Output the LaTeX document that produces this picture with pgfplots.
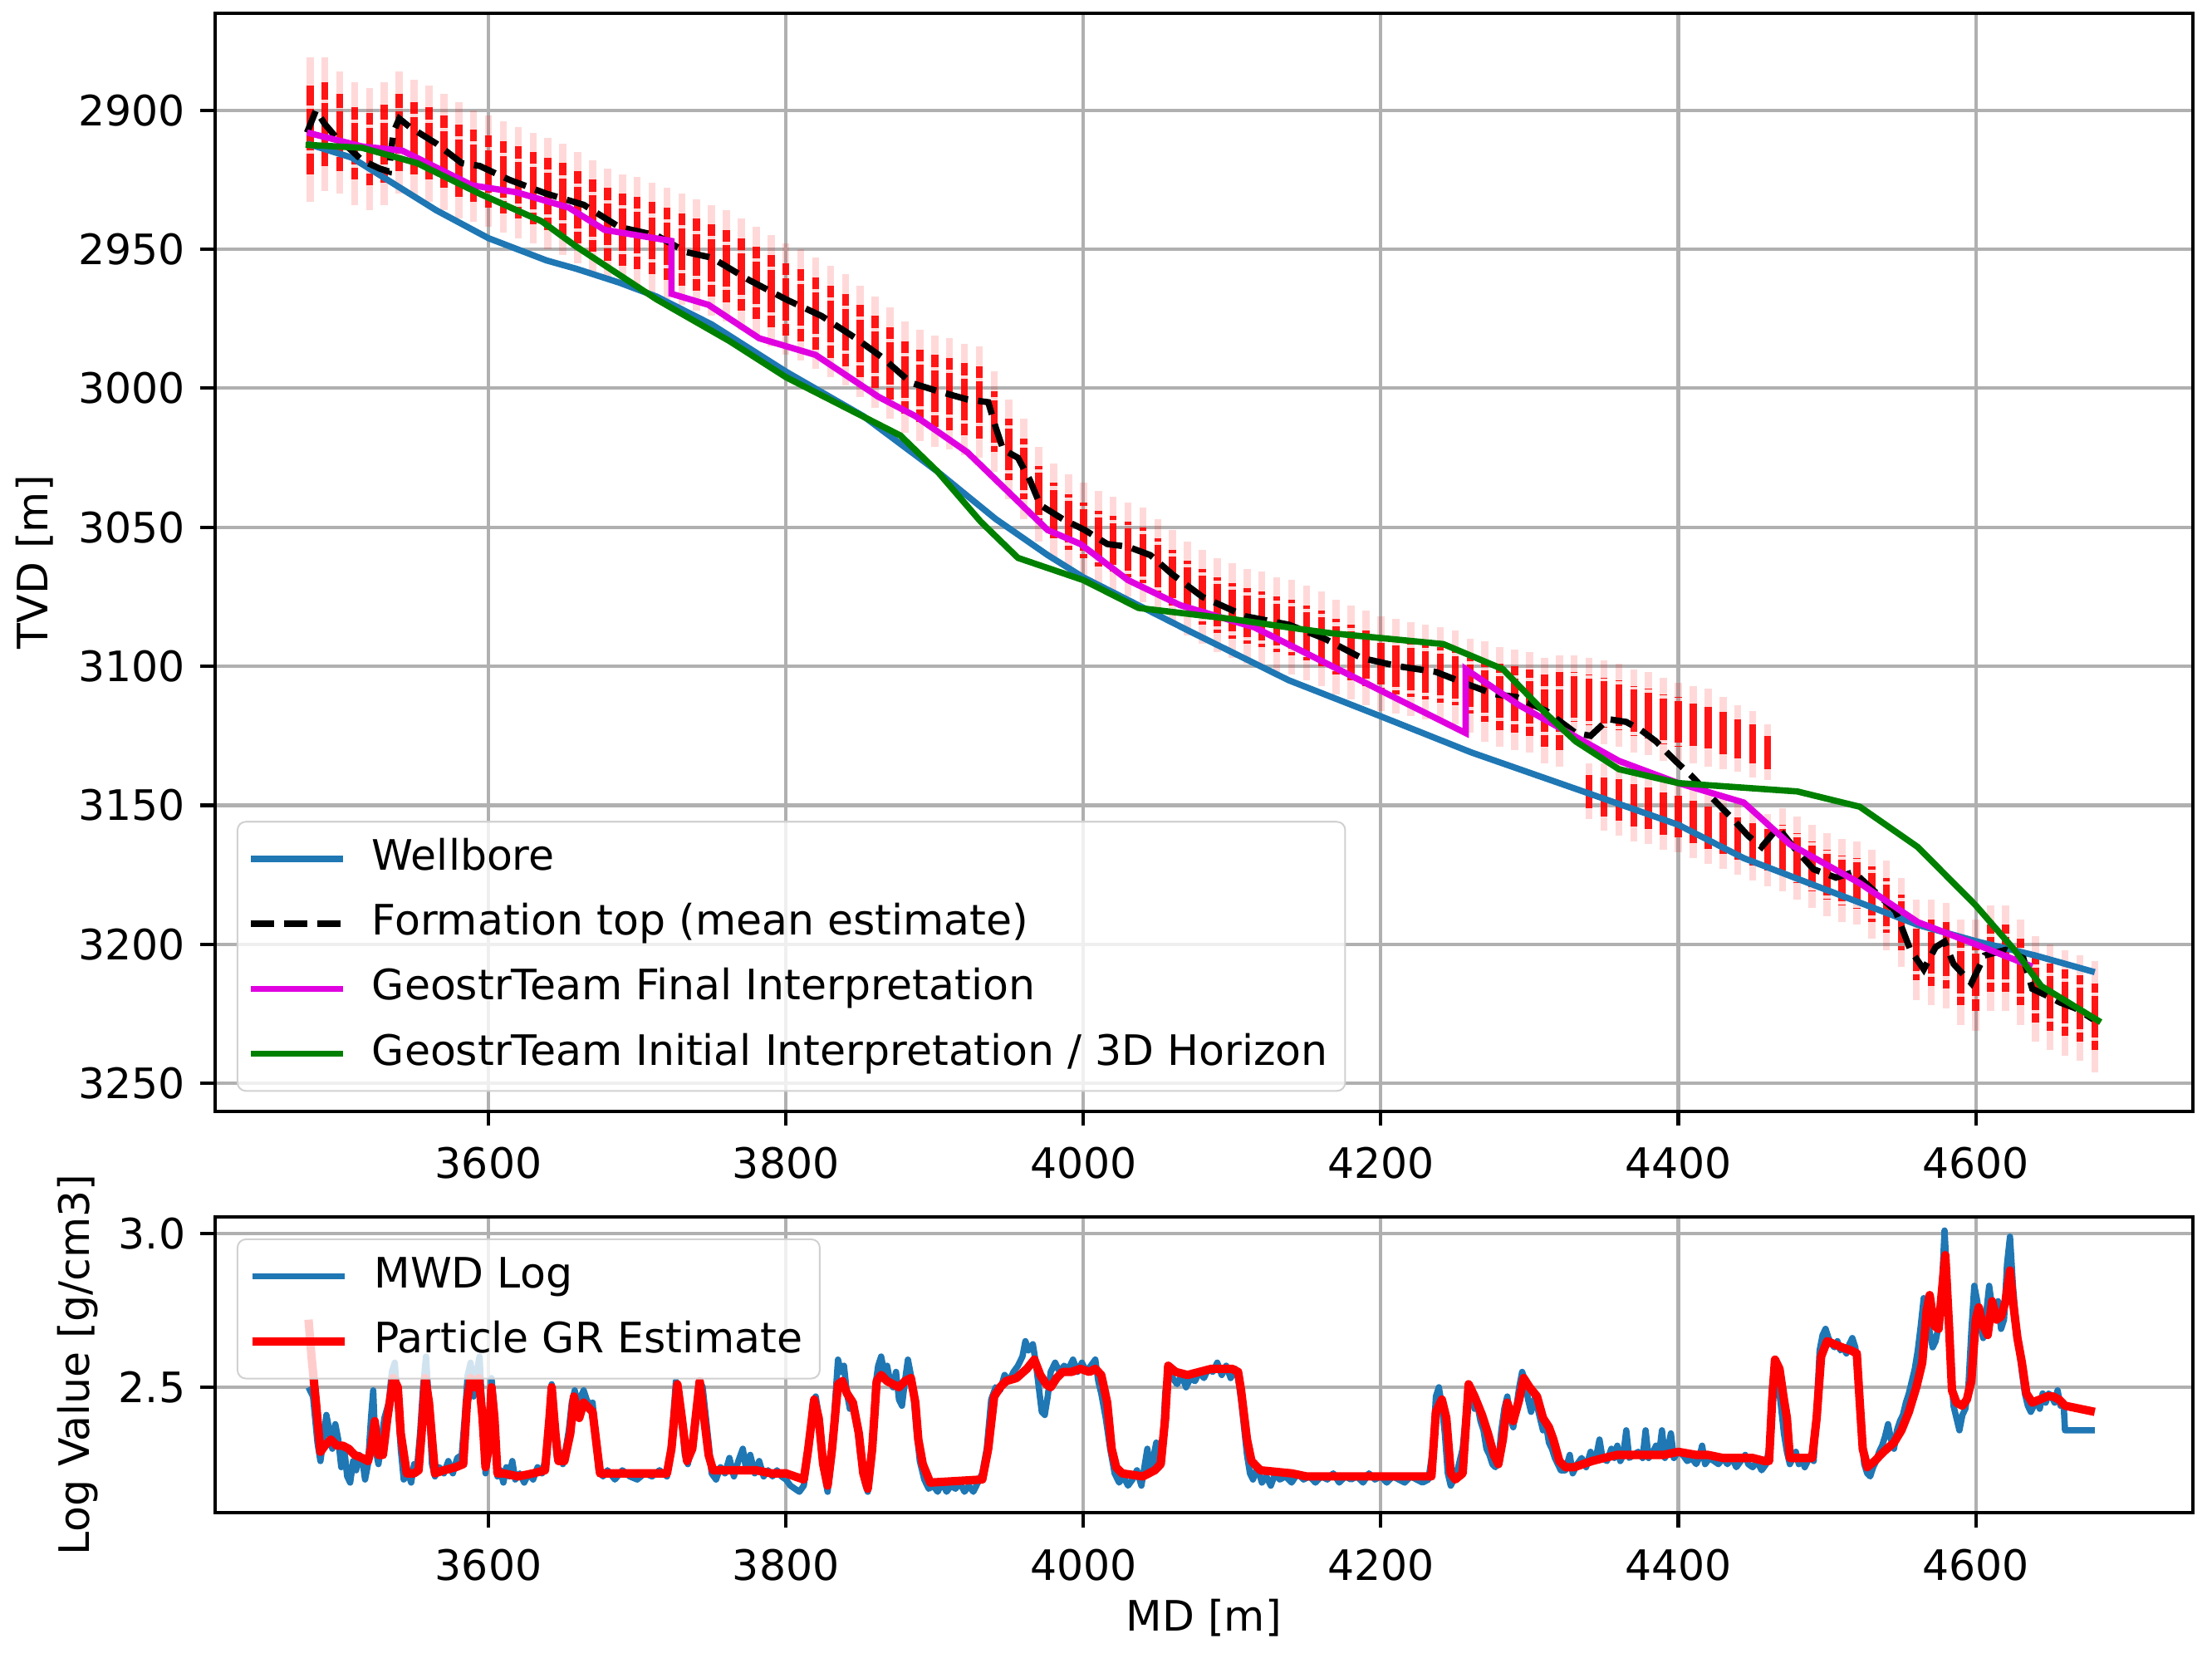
\documentclass[border=0pt]{standalone}
\usepackage{fontspec}
\setmainfont{DejaVu Sans}
\usepackage{pgfplots}
\pgfplotsset{compat=1.18}
\usepackage{pgfplotstable}

\definecolor{wblue}{HTML}{1F77B4}
\definecolor{fmag}{HTML}{E000E0}
\definecolor{igreen}{HTML}{008000}
\definecolor{gridc}{HTML}{B0B0B0}

% particle cloud: centre c, core half-width e, faint half-width f
\pgfplotstableread{
md c e f
3480 2907 16 26
3490 2905 15 24
3500 2908 14 22
3510 2912 13 22
3520 2914 13 22
3530 2912 14 22
3540 2908 14 22
3550 2910 13 21
3560 2912 13 21
3570 2915 13 21
3580 2918 13 21
3590 2920 13 20
3600 2922 13 20
3610 2924 13 20
3620 2926 13 20
3630 2928 13 20
3640 2930 13 20
3650 2932 13 20
3660 2935 13 20
3670 2938 13 20
3680 2941 13 20
3690 2943 13 20
3700 2944 13 20
3710 2946 13 20
3720 2948 13 20
3730 2950 13 20
3740 2952 13 20
3750 2954 13 20
3760 2956 13 20
3770 2959 13 20
3780 2962 13 20
3790 2965 13 20
3800 2968 13 20
3810 2970 13 20
3820 2973 13 20
3830 2976 13 20
3840 2979 13 20
3850 2983 13 20
3860 2987 13 20
3870 2991 13 20
3880 2996 13 20
3890 2999 13 20
3900 3001 13 20
3910 3002 13 20
3920 3004 13 20
3930 3005 13 20
3940 3012 11 18
3950 3022 11 18
3960 3029 11 18
3970 3038 10 17
3980 3044 10 17
3990 3048 10 17
4000 3051 10 17
4010 3054 10 17
4020 3056 10 17
4030 3058 10 17
4040 3060 10 17
4050 3064 10 17
4060 3068 10 17
4070 3072 10 17
4080 3075 10 17
4090 3078 10 17
4100 3080 10 17
4110 3082 10 17
4120 3083 10 17
4130 3085 10 17
4140 3086 10 17
4150 3088 10 17
4160 3090 10 17
4170 3093 10 17
4180 3095 10 17
4190 3097 10 17
4200 3099 10 17
4210 3100 10 17
4220 3101 10 17
4230 3102 10 17
4240 3103 10 17
4250 3104 10 17
4260 3107 10 17
4270 3109 11 18
4280 3111 12 18
4290 3112 12 18
4300 3113 12 18
4310 3116 13 19
4320 3116 14 20
4330 3111 9 15
4340 3112 9 15
4350 3113 9 15
4360 3114 9 15
4370 3116 9 15
4380 3117 9 15
4390 3119 9 15
4400 3120 9 14
4410 3121 8 14
4420 3122 8 14
4430 3124 8 13
4440 3126 7 12
4450 3128 7 12
4460 3131 6 10
4340 3145 6 10
4350 3147 7 12
4360 3148 8 13
4370 3150 8 13
4380 3151 8 13
4390 3153 8 13
4400 3154 8 13
4410 3156 8 13
4420 3158 8 13
4430 3160 8 13
4440 3162 8 13
4450 3164 8 13
4460 3166 8 13
4470 3166 9 15
4480 3169 9 15
4490 3172 9 15
4500 3175 9 15
4510 3177 9 15
4520 3178 9 15
4530 3182 10 16
4540 3186 10 16
4550 3192 10 16
4560 3202 11 18
4570 3203 12 19
4580 3204 12 19
4590 3210 12 19
4600 3211 13 20
4610 3205 12 19
4620 3205 12 19
4630 3210 12 19
4640 3216 12 19
4650 3219 12 19
4660 3221 12 19
4670 3223 12 19
4680 3226 12 20
}\cloud

\pgfplotstableread{
md tvd
3478 2912
3508 2917
3535 2926
3565 2936
3600 2946
3639 2954
3659 2957
3688 2962
3713 2967
3750 2977
3800 2994
3852 3010
3902 3030
3941 3047
3976 3060
4000 3068
4070 3087
4138 3105
4200 3118
4261 3131
4336 3145
4400 3157
4444 3169
4483 3177
4522 3185
4561 3193
4601 3199
4640 3204
4680 3210
}\wellbore

\pgfplotstableread{
md tvd
3478 2908
3484 2900
3490 2905
3498 2910
3507 2914
3515 2918
3527 2921
3533 2922
3536 2908
3540 2903
3547 2906
3565 2912
3582 2919
3594 2920
3614 2925
3639 2930
3664 2934
3688 2942
3713 2945
3733 2951
3750 2953
3775 2961
3800 2968
3824 2974
3847 2982
3865 2989
3884 2998
3902 3001
3922 3004
3936 3005
3941 3014
3946 3022
3956 3025
3964 3033
3971 3042
3986 3047
4001 3051
4016 3056
4030 3057
4045 3060
4060 3067
4080 3075
4109 3082
4138 3085
4162 3090
4187 3097
4212 3100
4237 3102
4256 3106
4276 3110
4291 3111
4311 3116
4331 3124
4341 3125
4353 3119
4365 3120
4375 3123
4385 3127
4398 3134
4410 3140
4422 3147
4435 3154
4447 3161
4456 3165
4467 3158
4479 3166
4491 3173
4506 3176
4518 3174
4530 3180
4546 3188
4556 3202
4565 3209
4573 3201
4579 3199
4585 3207
4597 3214
4606 3204
4620 3202
4632 3205
4638 3216
4646 3218
4657 3221
4667 3223
4679 3227
}\meantop

\pgfplotstableread{
md tvd
3478 2908
3515 2913
3542 2914.5
3559 2919
3589 2927
3619 2929.5
3654 2935
3678 2943
3723 2947
3723 2966
3748 2970
3782 2982
3820 2988
3862 3003
3887 3010
3922 3023
3976 3051
3998 3056
4030 3069
4065 3078
4115 3086
4257 3124
4257 3101
4293 3114
4360 3134
4400 3142
4444 3149
4475 3164
4522 3178
4561 3192
4600 3200
4638 3208
}\final

\pgfplotstableread{
md tvd
3477 2912.4
3515 2913.5
3552 2919
3594 2930
3636 2940
3659 2949
3713 2968
3762 2983
3800 2996
3877 3017
3902 3030
3931 3048
3956 3061
4000 3069
4037 3079
4100 3083
4138 3086
4165 3088
4242 3092
4282 3101
4311 3117
4331 3127
4360 3137
4400 3142
4480 3145
4522 3150.5
4561 3165
4600 3186
4626 3202
4644 3215
4684 3228
}\initial

\pgfplotstableread{
md v
3479 2.50
3482 2.47
3485 2.32
3487 2.26
3489 2.33
3491 2.41
3493 2.36
3495 2.30
3497 2.38
3499 2.33
3501 2.24
3503 2.30
3505 2.21
3507 2.19
3509 2.26
3511 2.23
3513 2.28
3515 2.27
3517 2.20
3519 2.25
3521 2.40
3522.5 2.49
3524 2.30
3526 2.25
3528 2.33
3530 2.40
3533 2.45
3535 2.55
3537 2.58
3539 2.45
3541 2.30
3543 2.20
3546 2.22
3548 2.19
3550 2.25
3552 2.24
3554 2.35
3556 2.50
3558 2.60
3560 2.44
3562 2.25
3564 2.21
3567 2.24
3570 2.22
3573 2.26
3576 2.22
3579 2.27
3582 2.28
3584 2.40
3586 2.54
3588 2.58
3590 2.47
3592 2.55
3594 2.60
3596 2.40
3598 2.22
3600 2.32
3602 2.53
3604 2.43
3606 2.21
3608 2.23
3610 2.19
3612 2.24
3614 2.21
3616 2.26
3618 2.20
3621 2.22
3624 2.19
3627 2.22
3630 2.20
3633 2.24
3636 2.22
3639 2.28
3641 2.42
3642.5 2.51
3644 2.37
3646 2.27
3648 2.29
3650 2.25
3652 2.30
3654 2.36
3656 2.45
3658 2.49
3660 2.44
3662 2.47
3664 2.49
3666 2.46
3668 2.44
3670 2.45
3672 2.34
3674 2.23
3677 2.21
3680 2.23
3685 2.20
3690 2.23
3695 2.21
3700 2.20
3705 2.22
3710 2.21
3715 2.23
3720 2.21
3723 2.32
3726 2.52
3729 2.45
3732 2.28
3734 2.25
3737 2.32
3740 2.44
3742 2.52
3744 2.50
3746 2.41
3748 2.32
3750 2.22
3753 2.20
3756 2.24
3759 2.22
3762 2.27
3765 2.21
3768 2.26
3771 2.30
3773 2.24
3776 2.28
3779 2.22
3782 2.26
3785 2.21
3788 2.23
3791 2.21
3794 2.23
3797 2.21
3800 2.20
3803 2.18
3806 2.17
3809 2.16
3812 2.18
3815 2.29
3818 2.45
3820 2.47
3823 2.38
3825 2.24
3828 2.16
3831 2.28
3833 2.45
3835 2.59
3837 2.55
3839 2.57
3841 2.48
3843 2.43
3845 2.44
3848 2.37
3850 2.28
3853 2.19
3855 2.16
3858 2.29
3860 2.50
3862 2.57
3864 2.60
3866 2.55
3868 2.57
3870 2.52
3872 2.50
3874 2.55
3876 2.46
3878 2.44
3880 2.52
3882 2.59
3884 2.54
3886 2.46
3888 2.35
3890 2.26
3893 2.20
3896 2.17
3899 2.18
3902 2.16
3905 2.19
3908 2.16
3911 2.18
3914 2.17
3917 2.19
3920 2.16
3923 2.18
3926 2.16
3929 2.19
3932 2.22
3935 2.30
3938 2.46
3941 2.50
3944 2.49
3947 2.54
3950 2.52
3953 2.55
3956 2.57
3959 2.60
3961 2.65
3963 2.62
3966 2.64
3968 2.58
3970 2.50
3972 2.42
3974 2.41
3976 2.47
3978 2.55
3981 2.58
3984 2.55
3987 2.57
3990 2.56
3993 2.59
3996 2.55
3999 2.58
4002 2.55
4005 2.57
4008 2.59
4010 2.52
4012 2.48
4015 2.40
4018 2.30
4021 2.22
4024 2.19
4027 2.21
4030 2.18
4033 2.20
4036 2.23
4039 2.18
4041 2.24
4043 2.30
4045 2.22
4047 2.27
4049 2.32
4051 2.24
4053 2.28
4055 2.48
4057 2.56
4060 2.53
4063 2.51
4066 2.54
4069 2.50
4072 2.53
4075 2.52
4078 2.55
4081 2.53
4084 2.56
4087 2.55
4090 2.58
4093 2.54
4096 2.57
4099 2.53
4102 2.56
4104 2.53
4106 2.46
4108 2.37
4110 2.28
4112 2.22
4114 2.20
4117 2.24
4120 2.19
4123 2.21
4126 2.18
4129 2.22
4132 2.20
4136 2.21
4140 2.19
4144 2.22
4148 2.20
4152 2.21
4156 2.19
4160 2.21
4164 2.20
4168 2.22
4172 2.19
4176 2.21
4180 2.20
4184 2.21
4188 2.19
4192 2.22
4196 2.20
4200 2.21
4204 2.19
4208 2.21
4212 2.20
4216 2.19
4220 2.21
4224 2.20
4228 2.19
4232 2.20
4235 2.30
4237 2.47
4239 2.50
4241 2.44
4243 2.35
4245 2.22
4247 2.18
4249 2.20
4252 2.24
4255 2.30
4257 2.40
4259 2.50
4261 2.48
4263 2.43
4265 2.44
4267 2.39
4269 2.36
4271 2.30
4273 2.28
4275 2.25
4277 2.24
4279 2.26
4281 2.36
4283 2.43
4285 2.47
4287 2.40
4289 2.37
4291 2.43
4293 2.50
4295 2.55
4297 2.52
4299 2.46
4301 2.42
4303 2.46
4305 2.44
4307 2.40
4309 2.36
4311 2.38
4313 2.32
4315 2.30
4317 2.27
4319 2.25
4321 2.23
4324 2.23
4327 2.28
4329 2.22
4332 2.25
4335 2.27
4338 2.24
4341 2.29
4343 2.26
4345 2.28
4347 2.33
4349 2.27
4352 2.26
4355 2.30
4357 2.27
4359 2.31
4361 2.26
4363 2.28
4365 2.36
4367 2.27
4370 2.28
4373 2.29
4376 2.27
4378 2.36
4380 2.27
4383 2.29
4385 2.31
4387 2.28
4389 2.36
4391 2.27
4393 2.30
4395 2.35
4397 2.27
4400 2.29
4403 2.28
4406 2.26
4409 2.27
4412 2.25
4414 2.27
4416 2.31
4418 2.25
4421 2.27
4424 2.26
4427 2.25
4430 2.27
4433 2.25
4436 2.27
4439 2.24
4442 2.26
4445 2.28
4447 2.25
4450 2.24
4453 2.26
4456 2.23
4459 2.25
4461 2.30
4463 2.50
4465 2.59
4467 2.52
4469 2.44
4471 2.35
4473 2.29
4475 2.25
4477 2.27
4479 2.29
4481 2.25
4483 2.27
4485 2.24
4487 2.26
4489 2.28
4491 2.26
4493 2.42
4495 2.62
4497 2.67
4499 2.69
4501 2.66
4503 2.64
4505 2.63
4507 2.65
4509 2.62
4511 2.63
4513 2.61
4515 2.64
4517 2.66
4519 2.63
4521 2.52
4523 2.35
4525 2.25
4527 2.22
4529 2.21
4531 2.24
4533 2.26
4535 2.29
4537 2.31
4539 2.34
4541 2.38
4543 2.33
4545 2.30
4547 2.36
4549 2.39
4551 2.41
4553 2.45
4555 2.48
4557 2.52
4559 2.56
4561 2.62
4563 2.70
4565 2.79
4567 2.74
4569 2.68
4571 2.63
4573 2.65
4575 2.70
4577 2.80
4579 3.01
4581 2.83
4583 2.58
4585 2.44
4587 2.40
4589 2.36
4591 2.41
4593 2.43
4595 2.50
4597 2.68
4599 2.83
4601 2.78
4603 2.70
4605 2.66
4607 2.74
4609 2.83
4611 2.76
4613 2.73
4615 2.78
4617 2.69
4619 2.72
4621 2.90
4623 2.99
4625 2.83
4627 2.71
4629 2.63
4631 2.55
4633 2.48
4635 2.44
4637 2.42
4639 2.44
4641 2.46
4643 2.43
4645 2.48
4647 2.45
4649 2.48
4651 2.47
4653 2.45
4655 2.49
4657 2.44
4659 2.45
4660 2.36
4670 2.36
4680 2.36
}\mwd

\pgfplotstableread{
md v
3479 2.72
3481 2.60
3484 2.45
3487 2.29
3490 2.31
3494 2.33
3498 2.31
3502 2.31
3506 2.30
3510 2.28
3515 2.27
3519 2.26
3521 2.30
3523.5 2.39
3526 2.28
3529 2.28
3532 2.40
3536 2.53
3539 2.50
3541 2.35
3545 2.22
3550 2.22
3553 2.23
3555 2.35
3557.5 2.53
3560 2.45
3564 2.22
3570 2.23
3578 2.24
3583 2.25
3585.5 2.45
3588 2.53
3591 2.50
3593.5 2.53
3596 2.40
3598 2.24
3600 2.30
3602 2.50
3604 2.40
3606 2.22
3610 2.22
3620 2.21
3630 2.22
3638 2.23
3641 2.40
3642.5 2.50
3645 2.35
3647 2.26
3651 2.26
3655 2.35
3657.5 2.47
3661 2.40
3664 2.45
3666 2.44
3670 2.42
3673 2.30
3675 2.22
3690 2.22
3720 2.22
3723 2.30
3727 2.51
3730 2.40
3733.5 2.26
3737 2.30
3742 2.52
3745 2.40
3748 2.28
3751 2.23
3780 2.23
3790 2.22
3800 2.22
3806 2.21
3812 2.20
3815 2.30
3819 2.46
3822 2.40
3825 2.25
3828 2.18
3831 2.30
3835 2.51
3838 2.52
3841 2.48
3845 2.45
3849 2.35
3852 2.22
3855 2.17
3858 2.30
3861 2.52
3864 2.54
3868 2.52
3872 2.51
3876 2.50
3880 2.52
3884 2.53
3887 2.45
3889 2.33
3892 2.25
3897 2.19
3932 2.20
3936 2.30
3940 2.47
3944 2.50
3948 2.52
3955 2.53
3962 2.56
3967 2.59
3971 2.54
3975 2.51
3978 2.50
3982 2.53
3986 2.55
3992 2.55
3998 2.56
4004 2.55
4008 2.56
4012 2.54
4016 2.45
4019 2.30
4022 2.24
4026 2.22
4040 2.21
4048 2.23
4052 2.25
4055 2.40
4057 2.57
4062 2.55
4070 2.54
4078 2.55
4086 2.56
4100 2.56
4104 2.55
4106 2.49
4110 2.33
4113 2.26
4119 2.23
4140 2.22
4150 2.21
4234 2.21
4237 2.42
4241 2.46
4244 2.40
4247 2.22
4250 2.20
4255 2.22
4259 2.51
4263 2.47
4268 2.41
4272 2.35
4276 2.28
4279 2.25
4282 2.33
4285 2.45
4289 2.39
4293 2.46
4296 2.53
4300 2.50
4305 2.47
4309 2.40
4313 2.37
4316 2.33
4320 2.26
4324 2.24
4330 2.24
4336 2.25
4342 2.26
4350 2.27
4359 2.28
4390 2.28
4400 2.29
4412 2.28
4420 2.28
4430 2.27
4450 2.27
4458 2.26
4461 2.26
4463 2.45
4465 2.59
4468 2.56
4471 2.46
4473 2.40
4475 2.27
4490 2.27
4493 2.40
4496 2.60
4500 2.65
4505 2.64
4510 2.63
4516 2.62
4520 2.61
4522 2.45
4524 2.30
4527 2.24
4532 2.26
4538 2.29
4545 2.32
4550 2.36
4555 2.42
4560 2.50
4564 2.58
4567 2.75
4569 2.80
4572 2.70
4575 2.69
4577 2.80
4579.5 2.93
4582 2.70
4584 2.49
4587 2.45
4591 2.44
4594 2.46
4597 2.52
4600 2.72
4602 2.76
4605 2.70
4608 2.67
4611 2.78
4614 2.72
4617 2.73
4620 2.78
4623 2.88
4625 2.78
4628 2.66
4631 2.58
4634 2.48
4638 2.45
4643 2.46
4648 2.47
4652 2.47
4656 2.46
4660 2.44
4670 2.43
4680 2.42
}\particle

\pgfplotsset{
  mpl/.style={
    scale only axis,
    width=6.528in,
    xmin=3416, xmax=4746,
    xtick={3600,3800,4000,4200,4400,4600},
    xticklabel style={yshift=-1.6pt},
    grid=major,
    major grid style={draw=gridc, line width=0.8pt},
    tick align=outside,
    tick pos=left,
    major tick length=3.5pt,
    every tick/.style={black, line width=0.8pt},
    axis line style={line width=0.8pt},
    /pgf/number format/assume math mode=true,
    /pgf/number format/1000 sep={},
    legend cell align=left,
  },
  mpllegend/.style={
    draw=black!18, rounded corners=2pt, fill=white, fill opacity=0.8, text opacity=1,
    inner xsep=2.5pt, inner ysep=2.3pt, row sep=2.4pt,
    nodes={inner sep=1.6pt, text height=7.6pt, text depth=2.3pt},
    /tikz/every odd column/.append style={column sep=4.5pt},
  },
}

\begin{document}
\begin{tikzpicture}
\path[use as bounding box] (0,0) rectangle (7.3in,-5.469in);

\begin{axis}[mpl,
    at={(0.709in,-0.0428in)}, anchor=north west,
    height=3.624in,
    y dir=reverse,
    ymin=2865, ymax=3260,
    ytick={2900,2950,3000,3050,3100,3150,3200,3250},
    ylabel={TVD [m]},
    ylabel style={at={(axis description cs:-0.091,0.5)}, anchor=center},
    legend style={mpllegend, at={(0,0)}, anchor=south west, xshift=0.072in, yshift=0.064in},
    legend image code/.code={\draw[#1] (0pt,0pt) -- (22pt,0pt);},
]
% particle cloud, faint tails then core
\addplot[draw=none, mark=none, forget plot,
    error bars/.cd, y dir=both, y explicit, error mark=none,
    error bar style={draw=red, line width=1.7pt, opacity=0.15}]
    table[x=md, y=c, y error=f] {\cloud};
\addplot[draw=none, mark=none, forget plot,
    error bars/.cd, y dir=both, y explicit, error mark=none,
    error bar style={draw=red, line width=1.7pt, opacity=0.9, dash pattern=on 5pt off 0.8pt}]
    table[x=md, y=c, y error=e] {\cloud};

\addplot[wblue, line width=1.5pt] table[x=md, y=tvd] {\wellbore};
\addlegendentry{Wellbore}
\addplot[black, line width=1.5pt, dash pattern=on 5.5pt off 2.4pt] table[x=md, y=tvd] {\meantop};
\addlegendentry{Formation top (mean estimate)}
\addplot[fmag, line width=1.5pt] table[x=md, y=tvd] {\final};
\addlegendentry{GeostrTeam Final Interpretation}
\addplot[igreen, line width=1.5pt] table[x=md, y=tvd] {\initial};
\addlegendentry{GeostrTeam Initial Interpretation / 3D Horizon}
\end{axis}

\begin{axis}[mpl,
    at={(0.709in,-4.015in)}, anchor=north west,
    height=0.977in,
    ymin=2.092, ymax=3.055,
    ytick={2.5,3.0},
    yticklabel style={/pgf/number format/.cd, fixed, fixed zerofill, precision=1},
    xlabel={MD [m]},
    xlabel style={at={(axis description cs:0.5,0)}, anchor=center, yshift=-0.348in},
    ylabel={Log Value [g/cm3]},
    ylabel style={at={(axis description cs:-0.0694,0.5)}, anchor=center},
    legend style={mpllegend, at={(0,1)}, anchor=north west, xshift=0.072in, yshift=-0.072in},
    legend image code/.code={\draw[#1] (0pt,0pt) -- (22pt,0pt);},
]
\addplot[wblue, line width=1.5pt, line join=round] table[x=md, y=v] {\mwd};
\addlegendentry{MWD Log}
\addplot[red, line width=2pt, line join=round] table[x=md, y=v] {\particle};
\addlegendentry{Particle GR Estimate}
\end{axis}
\end{tikzpicture}
\end{document}
